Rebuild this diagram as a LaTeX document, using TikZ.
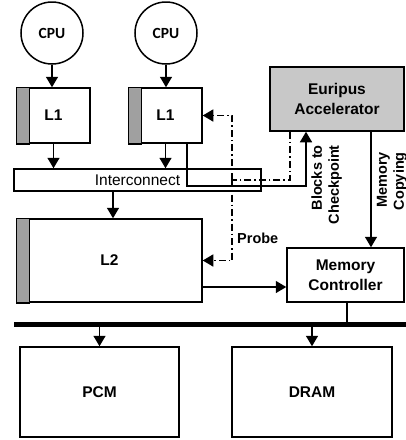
\documentclass[tikz,border=0pt]{standalone}
\usepackage{fontspec}
\setmainfont{Liberation Sans}
\newfontfamily\cpufont{Carlito}
\usetikzlibrary{arrows.meta,calc}
\definecolor{stripgray}{RGB}{160,160,160}
\definecolor{accgray}{RGB}{200,200,200}
\tikzset{
  box/.style={draw, line width=1.5pt, rectangle, inner sep=0pt, font=\fontsize{15.5}{19.5}\selectfont\bfseries},
  cpunode/.style={draw, line width=1.5pt, circle, minimum size=62pt, inner sep=0pt, font=\fontsize{15.5}{17}\selectfont\cpufont\bfseries},
  arr/.style={line width=1.5pt, -{Triangle[width=12pt,length=10.5pt]}},
  ln/.style={line width=1.5pt},
  dd/.style={line width=1.5pt, dash pattern=on 7pt off 3pt on 1.5pt off 3pt},
  lbl/.style={inner sep=0pt, font=\fontsize{14.5}{17}\selectfont\bfseries},
  cachelbl/.style={inner sep=0pt, font=\fontsize{15.5}{17}\selectfont\bfseries},
}
\begin{document}
\begin{tikzpicture}[x=1pt,y=-1pt]
\useasboundingbox (0,0) rectangle (406,440);
% nodes
\node[cpunode] (cpu1) at (52,33) {CPU};
\node[cpunode] (cpu2) at (166,33) {CPU};
\node[box, minimum width=73pt, minimum height=55pt] (l1a) at (53.5,115.5) {};
\node[box, minimum width=73pt, minimum height=55pt] (l1b) at (165.5,115.5) {};
\node[box, minimum width=247pt, minimum height=22pt, font=\fontsize{15.5}{17}\selectfont] (ic) at (137.5,180) {Interconnect};
\node[box, minimum width=185pt, minimum height=83pt] (l2) at (109.5,260.5) {};
\node[box, fill=accgray, minimum width=134pt, minimum height=64pt, align=center] (acc) at (337,99) {Euripus\\Accelerator};
\node[box, fill=white, minimum width=117pt, minimum height=54pt, align=center] (mc) at (345.5,275) {Memory\\Controller};
\node[box, minimum width=159pt, minimum height=90pt] (pcm) at (99.5,392) {PCM};
\node[box, minimum width=160pt, minimum height=90pt] (dram) at (312,392) {DRAM};
% gray strips
\foreach \n in {l1a,l1b,l2}{
  \filldraw[fill=stripgray, line width=1.5pt] (\n.north west) rectangle ($(\n.south west)+(13,0)$);
}
\node[cachelbl] (l1al) at (l1a) {L1};
\node[cachelbl] (l1bl) at (l1b) {L1};
\node[cachelbl] (l2l) at (l2) {L2};
% bus
\coordinate (busL) at (14,324.5);
\coordinate (busR) at (406,324.5);
\draw[line width=5.5pt] (busL) -- (busR);
% connectors
\draw[arr] (cpu1.south) -- (cpu1.south |- l1a.north);
\draw[arr] (cpu2.south) -- (cpu2.south |- l1b.north);
\draw[arr] (l1a.south) -- (l1a.south |- ic.north);
\draw[arr] (l1b.south) -- (l1b.south |- ic.north);
\draw[arr] ($(ic.south)+(-24.5,0)$) -- ($(l2.north)+(3.5,0)$);
% blocks to checkpoint (solid)
\coordinate (blk) at ($(acc.south)+(-31,0)$);
\draw[arr] ($(l1b.south)+(21.5,0)$) |- ($(blk)+(0,54)$) -- (blk);
% probe (dash-dot)
\coordinate (pj) at (232,180);
\draw[dd] ($(acc.south)+(-47,0)$) |- (pj);
\draw[dd,-{Triangle[width=12pt,length=10.5pt]}] (pj) |- (l1b.east);
\draw[dd,-{Triangle[width=12pt,length=10.5pt]}] (pj) |- (l2.east);
% memory copying
\draw[arr] ($(acc.south)+(34,0)$) -- ($(mc.north)+(25.5,0)$);
% L2 -> MC
\draw[arr] ($(l2.east)+(0,26.5)$) -- ($(mc.west)+(0,12)$);
% MC -> bus
\coordinate (mcb) at ($(mc.south)+(1.5,0)$);
\draw[ln] (mcb) -- (mcb |- busL);
% bus -> memories
\draw[arr] (pcm.north |- busL) -- (pcm.north);
\draw[arr] (dram.north |- busL) -- (dram.north);
% labels
\node[lbl, rotate=90, anchor=east, align=right] (blbl) at (326.5,145) {Blocks to\\Checkpoint};
\node[lbl, rotate=90, anchor=east, align=right] (mlbl) at (392,152) {Memory\\Copying};
\node[lbl, anchor=west] (plbl) at (237,238) {Probe};
\end{tikzpicture}
\end{document}
